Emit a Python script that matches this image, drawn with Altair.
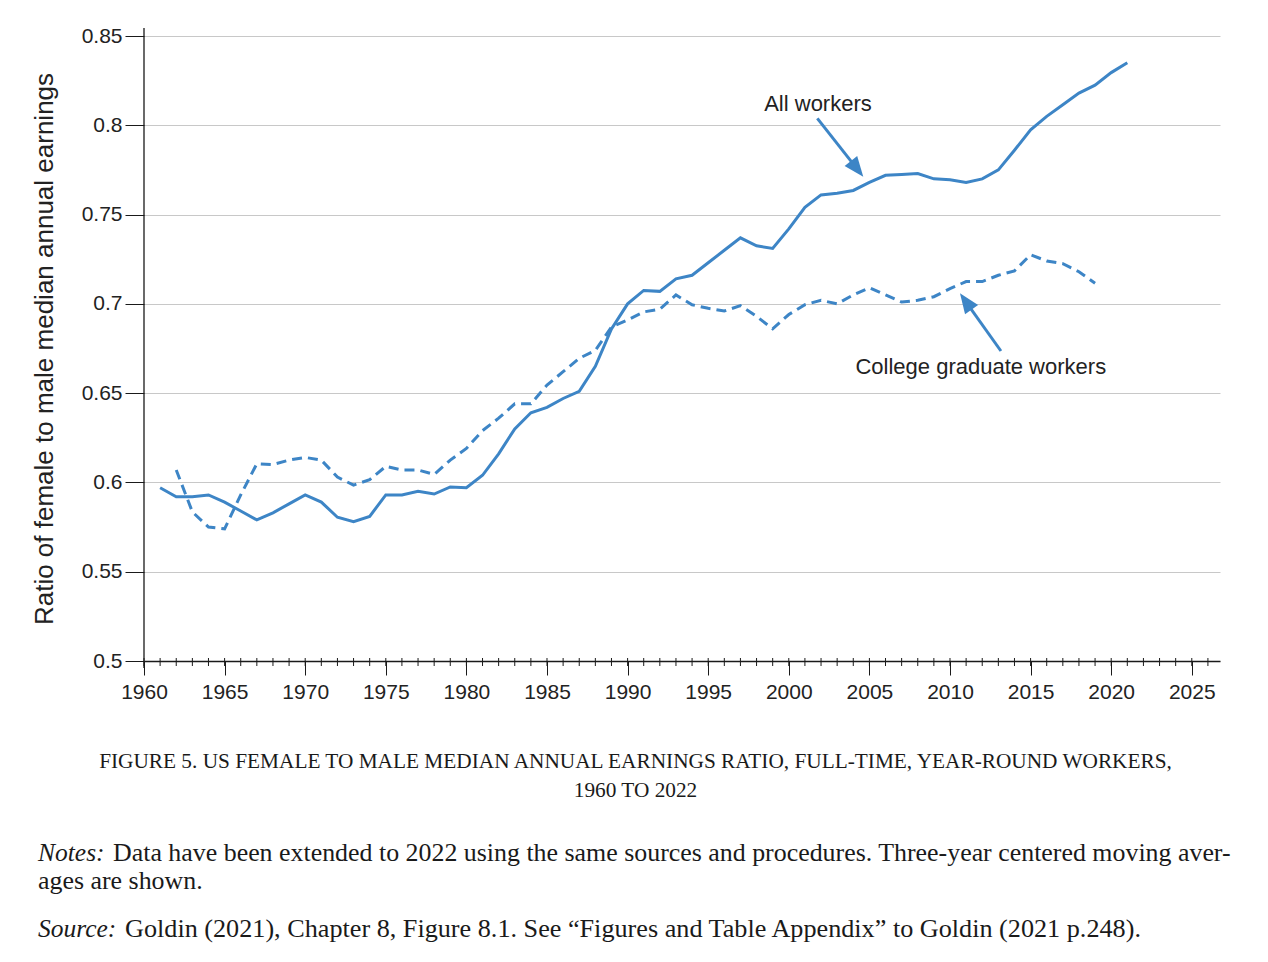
import altair as alt
import pandas as pd

# ---------------- data ----------------
years_all = list(range(1961, 2022))
all_workers = [
    0.597, 0.592, 0.592, 0.593, 0.589, 0.584, 0.579, 0.583, 0.588, 0.593,   # 1961-1970
    0.589, 0.5805, 0.578, 0.581, 0.593, 0.593, 0.595, 0.5935, 0.5975, 0.597,  # 1971-1980
    0.604, 0.616, 0.630, 0.639, 0.642, 0.647, 0.651, 0.665, 0.686, 0.700,    # 1981-1990
    0.7075, 0.707, 0.714, 0.716, 0.723, 0.730, 0.737, 0.7325, 0.731, 0.742,  # 1991-2000
    0.754, 0.761, 0.762, 0.7635, 0.768, 0.772, 0.7725, 0.773, 0.770, 0.7695, # 2001-2010
    0.768, 0.770, 0.775, 0.786, 0.7975, 0.805, 0.8115, 0.818, 0.8225, 0.8295, # 2011-2020
    0.835,                                                                   # 2021
]
years_college = list(range(1962, 2020))
college_workers = [
    0.607, 0.5835, 0.575, 0.574, 0.593, 0.6105, 0.610, 0.6125, 0.614,        # 1962-1970
    0.6125, 0.603, 0.5985, 0.6015, 0.609, 0.607, 0.607, 0.6045, 0.6125, 0.619, # 1971-1980
    0.629, 0.636, 0.644, 0.644, 0.6545, 0.662, 0.6695, 0.674, 0.687, 0.691,  # 1981-1990
    0.6955, 0.697, 0.705, 0.6995, 0.6975, 0.696, 0.699, 0.693, 0.686, 0.694, # 1991-2000
    0.6995, 0.702, 0.700, 0.705, 0.709, 0.705, 0.701, 0.702, 0.704, 0.7085,  # 2001-2010
    0.7125, 0.7125, 0.716, 0.7185, 0.7275, 0.724, 0.7225, 0.718, 0.7115,     # 2011-2019
]
x_ticks = list(range(1960, 2030, 5))
minor_years = list(range(1960, 2027))
y_ticks = [0.5, 0.55, 0.6, 0.65, 0.7, 0.75, 0.8, 0.85]

# annotations (data coordinates)
ann_labels = ["All workers", "College graduate workers"]
ann_label_x = [2001.81, 2011.91]
ann_label_y = [0.808, 0.6606]
arrow_start_x = [2001.77, 2013.16]
arrow_start_y = [0.8039, 0.6736]
arrow_end_x = [2004.2, 2011.0]
arrow_end_y = [0.7760, 0.7010]
arrow_tip_x = [2004.62, 2010.62]
arrow_tip_y = [0.7712, 0.7059]
arrow_angle = [141.8, 324.6]

caption1 = "FIGURE 5. US FEMALE TO MALE MEDIAN ANNUAL EARNINGS RATIO, FULL-TIME, YEAR-ROUND WORKERS,"
caption2 = "1960 TO 2022"
notes_head = "Notes:"
notes_1 = "Data have been extended to 2022 using the same sources and procedures. Three-year centered moving aver-"
notes_2 = "ages are shown."
source_head = "Source:"
source_1 = "Goldin (2021), Chapter 8, Figure 8.1. See \u201cFigures and Table Appendix\u201d to Goldin (2021 p.248)."

# ---------------- styling ----------------
W, H = 1076, 625
BLUE = "#3d85c6"
INK = "#1a1a1a"
SANS = "Liberation Sans"
SERIF = "Liberation Serif"

x_scale = alt.Scale(domain=[1960, 2026.75], nice=False, zero=False)
y_scale = alt.Scale(domain=[0.5, 0.85], nice=False, zero=False)

x_axis = alt.Axis(
    values=x_ticks, format="d", title=None, grid=False,
    tickSize=14, tickColor=INK, tickWidth=1,
    domainColor=INK, domainWidth=1.3,
    labelFontSize=21, labelFont=SANS, labelColor="#222",
    labelPadding=6, labelFlush=False, labelOverlap=False,
)
y_axis = alt.Axis(
    values=y_ticks, format=".2~f",
    title="Ratio of female to male median annual earnings",
    grid=True, gridColor="#c8c8c8", gridWidth=1,
    tickSize=19, tickColor=INK, tickWidth=1, domain=False,
    labelFontSize=21, labelFont=SANS, labelColor="#222", labelPadding=3,
    labelFlush=False, labelOverlap=False,
    titleFont=SANS, titleFontSize=26, titleFontWeight="normal", titleColor="#222",
    titleX=-100, titleY=H / 2, titleBaseline="middle", titleAlign="center",
)

df_all = pd.DataFrame({"year": years_all, "ratio": all_workers})
df_col = pd.DataFrame({"year": years_college, "ratio": college_workers})
df_minor = pd.DataFrame({"year": minor_years})
df_arrow = pd.DataFrame({
    "year": arrow_start_x, "ratio": arrow_start_y,
    "ex": arrow_end_x, "ey": arrow_end_y,
})
df_head = pd.DataFrame({"year": arrow_tip_x, "ratio": arrow_tip_y, "ang": arrow_angle})
df_lab = pd.DataFrame({"year": ann_label_x, "ratio": ann_label_y, "txt": ann_labels})


def X(field="year"):
    return alt.X(f"{field}:Q", scale=x_scale, axis=x_axis)


def Y(field="ratio"):
    return alt.Y(f"{field}:Q", scale=y_scale, axis=y_axis)


minor = alt.Chart(df_minor).mark_rule(color=INK, strokeWidth=1).encode(
    x=X(), y=alt.value(H - 3), y2=alt.value(H + 5)
)
yline = alt.Chart(pd.DataFrame({"v": [0]})).mark_rule(color=INK, strokeWidth=1.3).encode(
    x=alt.value(0), y=alt.value(-8), y2=alt.value(H + 7)
)

line_all = alt.Chart(df_all).mark_line(color=BLUE, strokeWidth=3).encode(x=X(), y=Y())
line_col = alt.Chart(df_col).mark_line(color=BLUE, strokeWidth=3, strokeDash=[10, 6]).encode(x=X(), y=Y())

shafts = alt.Chart(df_arrow).mark_rule(color=BLUE, strokeWidth=3).encode(
    x=X(), y=Y(), x2="ex:Q", y2="ey:Q"
)
heads = alt.Chart(df_head).mark_point(
    shape="M0,0L-0.8,2L0.8,2Z", filled=True, size=400, color=BLUE, opacity=1, strokeWidth=0
).encode(x=X(), y=Y(), angle=alt.Angle("ang:Q", scale=None))
labels = alt.Chart(df_lab).mark_text(
    font=SANS, fontSize=22, color="#222", align="center", baseline="alphabetic"
).encode(x=X(), y=Y(), text="txt:N")


def text_layer(txt, x, y, font=SERIF, size=20, align="left", style="normal"):
    return alt.Chart(pd.DataFrame({"t": [txt]})).mark_text(
        font=font, fontSize=size, align=align, baseline="alphabetic",
        color="#1a1a1a", fontStyle=style,
    ).encode(text="t:N", x=alt.value(x), y=alt.value(y))


cap1 = text_layer(caption1, 491.5, 732, size=21.3, align="center")
cap2 = text_layer(caption2, 491.5, 761, size=21.3, align="center")
n_head = text_layer(notes_head, -106, 825, size=25.5, style="italic")
n_1 = text_layer(notes_1, -31, 825, size=25.9)
n_2 = text_layer(notes_2, -106, 853, size=25.9)
s_head = text_layer(source_head, -106, 901, size=25.5, style="italic")
s_1 = text_layer(source_1, -19, 901, size=26.2)

chart = alt.layer(
    line_all, line_col, minor, yline, shafts, heads, labels,
    cap1, cap2, n_head, n_1, n_2, s_head, s_1,
).properties(
    width=W, height=H,
    autosize=alt.AutoSizeParams(type="none"),
    padding={"left": 136, "top": 28, "right": 30, "bottom": 290},
    background="white",
).configure_view(stroke=None)

chart.save("out.html", embed_options={"renderer": "svg", "actions": False})
